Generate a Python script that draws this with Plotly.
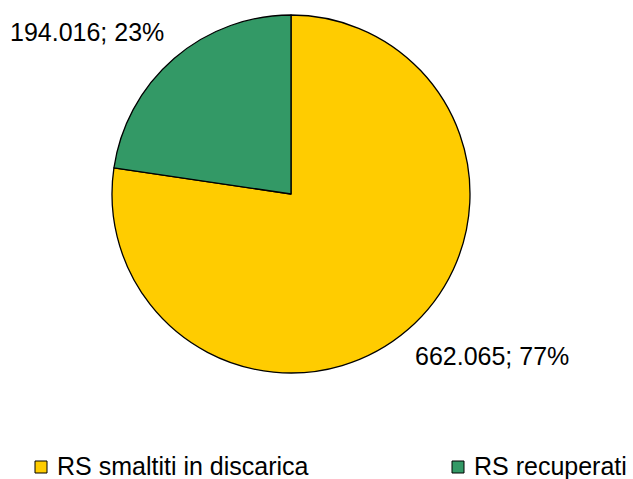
import plotly.graph_objects as go

labels = ["RS smaltiti in discarica", "RS recuperati"]
values = [662065, 194016]
colors = ["#FFCC00", "#339966"]

def fmt(v):
    return f"{v:,}".replace(",", ".")

total = sum(values)
texts = [f"{fmt(v)}; {round(100*v/total)}%" for v in values]

W, H = 633, 479

fig = go.Figure(go.Pie(
    labels=labels, values=values, sort=False, direction="clockwise", rotation=0,
    marker=dict(colors=colors, line=dict(color="black", width=1.3)),
    textinfo="none", hoverinfo="label+value+percent",
    domain=dict(x=[112/W, 470/W], y=[1-373/H, 1-15/H]),
    showlegend=False,
))

# label annotations (outside labels)
label_pos = [(414, 356), (9, 32)]
annotations = []
for t, (px, py) in zip(texts, label_pos):
    annotations.append(dict(text=t, x=px/W, y=1-py/H, xref="paper", yref="paper",
                            xanchor="left", yanchor="middle", showarrow=False,
                            font=dict(size=25), borderpad=0))

# manual legend
legend_x = [35, 452]
legend_y = 466
sq = 12
shapes = []
for lab, col, lx in zip(labels, colors, legend_x):
    shapes.append(dict(type="rect", xref="paper", yref="paper",
                       x0=lx/W, x1=(lx+sq)/W, y0=1-(legend_y+1+sq/2)/H, y1=1-(legend_y+1-sq/2)/H,
                       fillcolor=col, line=dict(color="black", width=1)))
    annotations.append(dict(text=lab, x=(lx+sq+9)/W, y=1-legend_y/H, xref="paper", yref="paper",
                            xanchor="left", yanchor="middle", showarrow=False,
                            font=dict(size=25), borderpad=0))

fig.update_layout(
    width=W, height=H,
    margin=dict(l=0, r=0, t=0, b=0),
    paper_bgcolor="white", plot_bgcolor="white",
    font=dict(family="Liberation Sans, Arial, sans-serif", size=25, color="black"),
    showlegend=False,
    annotations=annotations,
    shapes=shapes,
)

fig.write_html("out.html")
